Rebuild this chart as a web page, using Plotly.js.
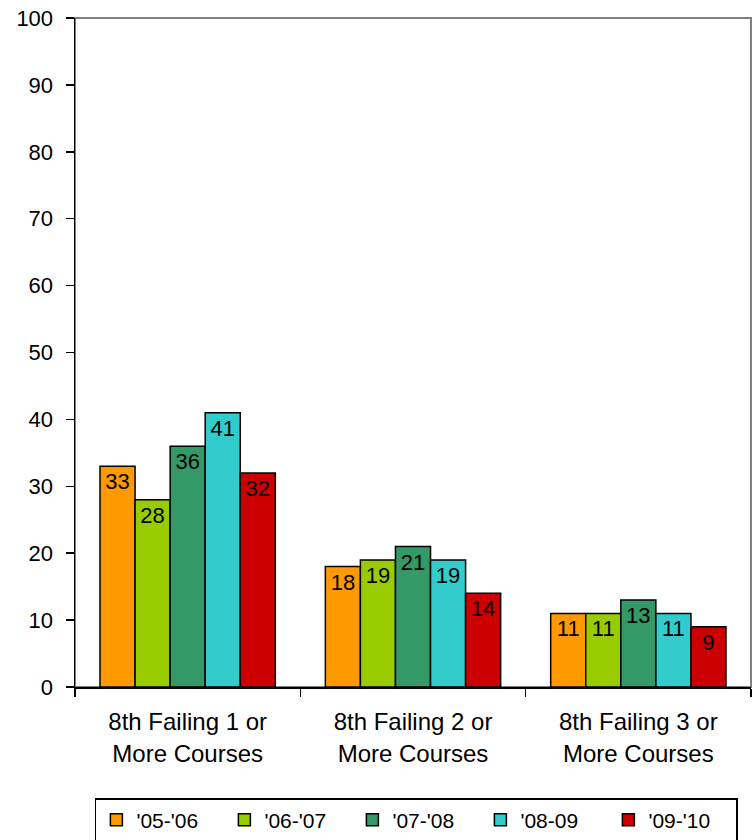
<!DOCTYPE html>
<html>
<head>
<meta charset="utf-8">
<script src="https://cdn.plot.ly/plotly-3.0.1.min.js"></script>
<style>html,body{margin:0;padding:0;background:#fff;}#chart{width:753px;height:840px;}</style>
</head>
<body>
<div id="chart"></div>
<script>
const categories = ["8th Failing 1 or<br>More Courses", "8th Failing 2 or<br>More Courses", "8th Failing 3 or<br>More Courses"];
const seriesNames = ["'05-'06", "'06-'07", "'07-'08", "'08-09", "'09-'10"];
const s0506 = [33, 18, 11];
const s0607 = [28, 19, 11];
const s0708 = [36, 21, 13];
const s0809 = [41, 19, 11];
const s0910 = [32, 14, 9];
const seriesValues = [s0506, s0607, s0708, s0809, s0910];
const colors = ["#FF9900", "#99CC00", "#339966", "#33CCCC", "#CC0000"];
const yTicks = [0, 10, 20, 30, 40, 50, 60, 70, 80, 90, 100];

const FONT = "Liberation Sans, Arial, sans-serif";

const traces = seriesValues.map((vals, i) => ({
  type: 'bar',
  name: seriesNames[i],
  x: categories,
  y: vals,
  text: vals.map(String),
  textposition: 'inside',
  insidetextanchor: 'end',
  textangle: 0,
  textfont: {family: FONT, size: 22, color: '#000'},
  constraintext: 'none',
  marker: {color: colors[i], line: {color: '#000', width: 1.5}},
  hoverinfo: 'none'
}));

const layout = {
  width: 753, height: 840,
  margin: {l: 75, r: 2, t: 18, b: 153, autoexpand: false},
  paper_bgcolor: '#fff', plot_bgcolor: '#fff',
  font: {family: FONT, size: 20, color: '#000'},
  barmode: 'group',
  bargap: 0.222,
  bargroupgap: 0,
  showlegend: true,
  legend: {
    orientation: 'h',
    x: 0.505, xanchor: 'center',
    y: -0.166, yanchor: 'top',
    bordercolor: '#000', borderwidth: 1.5,
    bgcolor: '#fff',
    font: {family: FONT, size: 21, color: '#000'},
    entrywidth: 83, entrywidthmode: 'pixels',
    traceorder: 'normal'
  },
  xaxis: {
    type: 'category',
    showline: true, linecolor: '#000', linewidth: 1.5,
    ticks: 'outside', tickson: 'boundaries', ticklen: 8, tickwidth: 1.5, tickcolor: '#000',
    ticklabelstandoff: 13,
    showgrid: false, zeroline: false,
    tickfont: {family: FONT, size: 24, color: '#000'}
  },
  yaxis: {
    range: [0, 100],
    tickvals: yTicks,
    ticktext: yTicks.map(String),
    showline: true, linecolor: '#000', linewidth: 1.5,
    ticks: 'outside', ticklen: 8, tickwidth: 1.5, tickcolor: '#000',
    ticklabelstandoff: 8,
    showgrid: false, zeroline: false,
    tickfont: {family: FONT, size: 22, color: '#000'}
  },
  shapes: [{
    type: 'rect', xref: 'paper', yref: 'paper', x0: 0, x1: 1, y0: 0, y1: 1,
    line: {color: '#808080', width: 2}, layer: 'below'
  }]
};

Plotly.newPlot('chart', traces, layout, {staticPlot: true, displayModeBar: false});
</script>
</body>
</html>
